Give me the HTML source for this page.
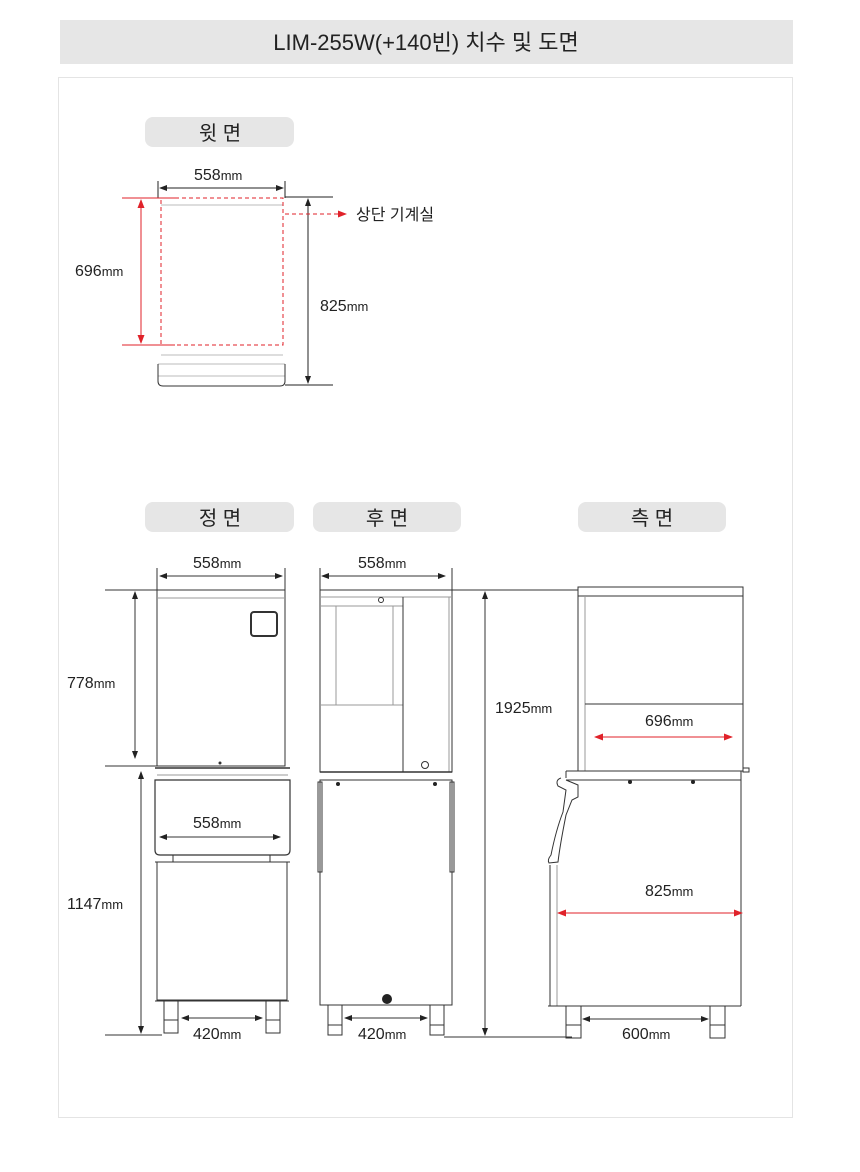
<!DOCTYPE html>
<html><head><meta charset="utf-8"><style>
html,body{margin:0;padding:0;background:#fff;}
svg{display:block;}
text{font-family:"Liberation Sans","Noto Sans CJK KR",sans-serif;fill:#222;}
</style></head><body>
<svg width="860" height="1172" viewBox="0 0 860 1172" xmlns="http://www.w3.org/2000/svg">
<defs>
<marker id="ab" markerWidth="8" markerHeight="8" refX="7" refY="4" orient="auto-start-reverse" markerUnits="userSpaceOnUse"><path d="M0,1 L8,4 L0,7 Z" fill="#222"/></marker>
<marker id="ar" markerWidth="9" markerHeight="9" refX="8" refY="4.5" orient="auto-start-reverse" markerUnits="userSpaceOnUse"><path d="M0,1 L9,4.5 L0,8 Z" fill="#e0222a"/></marker>
</defs>
<rect x="60" y="20" width="733" height="44" fill="#e6e6e6"/>
<text x="426" y="50" font-size="22" text-anchor="middle" fill="#333">LIM-255W(+140빈) 치수 및 도면</text>
<rect x="58.5" y="77.5" width="734" height="1040" fill="none" stroke="#e4e4e4"/>

<!-- pills -->
<g fill="#e6e6e6"><rect x="145" y="117" width="149" height="30" rx="8"/><rect x="145" y="502" width="149" height="30" rx="8"/><rect x="313" y="502" width="148" height="30" rx="8"/><rect x="578" y="502" width="148" height="30" rx="8"/></g>
<g font-size="20" text-anchor="middle" fill="#333"><text x="220" y="140">윗 면</text><text x="220" y="525">정 면</text><text x="387" y="525">후 면</text><text x="652" y="525">측 면</text></g>

<g font-size="16"><text x="194" y="180">558<tspan font-size="13">mm</tspan></text>
<text x="75" y="276">696<tspan font-size="13">mm</tspan></text>
<text x="320" y="311">825<tspan font-size="13">mm</tspan></text>
<text x="356" y="220">상단 기계실</text></g>

<!-- top view -->
<g stroke="#222" stroke-width="1" fill="none">
<line x1="158" y1="181" x2="158" y2="198"/><line x1="285" y1="181" x2="285" y2="198"/>
<line x1="160" y1="188" x2="283" y2="188" marker-start="url(#ab)" marker-end="url(#ab)"/>
<line x1="285" y1="197" x2="333" y2="197"/><line x1="285" y1="385" x2="333" y2="385"/>
<line x1="308" y1="199" x2="308" y2="383" marker-start="url(#ab)" marker-end="url(#ab)"/>
</g>
<g stroke="#bbb" fill="none">
<line x1="161" y1="205" x2="283" y2="205"/><line x1="161" y1="355" x2="283" y2="355"/><line x1="158" y1="364" x2="285" y2="364"/><line x1="158" y1="376" x2="285" y2="376"/>
<path d="M158,364 V381 Q158,386 163,386 H280 Q285,386 285,381 V364" stroke="#333"/>
</g>
<g stroke="#e0222a" fill="none">
<rect x="161" y="198" width="122" height="147" stroke-dasharray="4,3"/>
<line x1="122" y1="198" x2="175" y2="198"/><line x1="122" y1="345" x2="175" y2="345"/>
<line x1="141" y1="200" x2="141" y2="343" marker-start="url(#ar)" marker-end="url(#ar)"/>
<line x1="285" y1="214" x2="346" y2="214" stroke-dasharray="4,3" marker-end="url(#ar)"/>
</g>

<!-- front view -->
<g font-size="16"><text x="193" y="568">558<tspan font-size="13">mm</tspan></text>
<text x="67" y="688">778<tspan font-size="13">mm</tspan></text>
<text x="67" y="909">1147<tspan font-size="13">mm</tspan></text>
<text x="193" y="828">558<tspan font-size="13">mm</tspan></text>
<text x="193" y="1039">420<tspan font-size="13">mm</tspan></text>
<text x="358" y="568">558<tspan font-size="13">mm</tspan></text>
<text x="358" y="1039">420<tspan font-size="13">mm</tspan></text>
<text x="495" y="713">1925<tspan font-size="13">mm</tspan></text>
<text x="645" y="726">696<tspan font-size="13">mm</tspan></text>
<text x="645" y="896">825<tspan font-size="13">mm</tspan></text>
<text x="622" y="1039">600<tspan font-size="13">mm</tspan></text></g>

<g stroke="#333" stroke-width="1" fill="none">
<line x1="157" y1="568" x2="157" y2="590"/><line x1="285" y1="568" x2="285" y2="590"/>
<line x1="160" y1="576" x2="282" y2="576" marker-start="url(#ab)" marker-end="url(#ab)"/>
<line x1="105" y1="590" x2="157" y2="590"/><line x1="105" y1="766" x2="157" y2="766"/><line x1="105" y1="1035" x2="162" y2="1035"/>
<line x1="135" y1="592" x2="135" y2="758" marker-start="url(#ab)" marker-end="url(#ab)"/>
<line x1="141" y1="772" x2="141" y2="1033" marker-start="url(#ab)" marker-end="url(#ab)"/>
<rect x="157" y="590" width="128" height="176"/>
<line x1="157" y1="598" x2="285" y2="598" stroke="#999"/>
<rect x="251" y="612" width="26" height="24" rx="3" stroke-width="2"/>
<line x1="155" y1="768" x2="290" y2="768" stroke-width="1.5"/>
<line x1="157" y1="775" x2="288" y2="775" stroke="#999"/>
<path d="M155,780 H290 V850 Q290,855 285,855 H160 Q155,855 155,850 Z" stroke-width="1.2"/>
<path d="M173,855 V862 H270 V855"/>
<line x1="155" y1="862" x2="290" y2="862"/>
<rect x="157" y="862" width="130" height="138"/>
<line x1="155" y1="1001" x2="289" y2="1001"/>
<rect x="164" y="1001" width="14" height="32"/><rect x="266" y="1001" width="14" height="32"/>
<line x1="164" y1="1020" x2="178" y2="1020"/><line x1="266" y1="1020" x2="280" y2="1020"/>
<line x1="182" y1="1018" x2="262" y2="1018" marker-start="url(#ab)" marker-end="url(#ab)"/>
<line x1="160" y1="837" x2="280" y2="837" marker-start="url(#ab)" marker-end="url(#ab)"/>
</g>
<circle cx="220" cy="763" r="1.5" fill="#333"/>

<!-- back view -->
<g stroke="#333" stroke-width="1" fill="none">
<line x1="320" y1="568" x2="320" y2="590"/><line x1="452" y1="568" x2="452" y2="590"/>
<line x1="322" y1="576" x2="445" y2="576" marker-start="url(#ab)" marker-end="url(#ab)"/>
<rect x="320" y="590" width="132" height="182"/>
<line x1="320" y1="597" x2="452" y2="597" stroke="#999"/>
<line x1="320" y1="606" x2="403" y2="606" stroke="#999"/>
<line x1="320" y1="705" x2="403" y2="705" stroke="#999"/>
<rect x="336" y="606" width="57" height="99" stroke="#999"/>
<line x1="403" y1="597" x2="403" y2="772"/>
<line x1="449" y1="597" x2="449" y2="772" stroke="#999"/>
<circle cx="381" cy="600" r="2.5"/><circle cx="425" cy="765" r="3.5"/>
<line x1="320" y1="772" x2="452" y2="772" stroke-width="1.5"/>
<rect x="320" y="780" width="132" height="225"/>
<rect x="318" y="782" width="4" height="90"/><rect x="450" y="782" width="4" height="90"/>
<rect x="328" y="1005" width="14" height="30"/><rect x="430" y="1005" width="14" height="30"/>
<line x1="328" y1="1025" x2="342" y2="1025"/><line x1="430" y1="1025" x2="444" y2="1025"/>
<line x1="345" y1="1018" x2="427" y2="1018" marker-start="url(#ab)" marker-end="url(#ab)"/>
<line x1="452" y1="590" x2="578" y2="590"/>
<line x1="444" y1="1037" x2="572" y2="1037"/>
<line x1="485" y1="592" x2="485" y2="1035" marker-start="url(#ab)" marker-end="url(#ab)"/>
</g>
<circle cx="338" cy="784" r="2" fill="#222"/><circle cx="435" cy="784" r="2" fill="#222"/>
<circle cx="387" cy="999" r="5" fill="#222"/>

<!-- side view -->
<g stroke="#333" stroke-width="1" fill="none">
<rect x="578" y="587" width="165" height="9"/>
<rect x="578" y="596" width="165" height="175"/>
<line x1="585" y1="596" x2="585" y2="771" stroke="#999"/>
<line x1="585" y1="704" x2="743" y2="704"/>
<line x1="566" y1="771" x2="743" y2="771"/>
<rect x="743" y="768" width="6" height="4"/>
<line x1="566" y1="780" x2="741" y2="780"/>
<line x1="741" y1="771" x2="741" y2="1006"/>
<path d="M566,771 V778"/>
<path d="M561,778 Q555,780 558,786 L566,790 L563,812 Q556,830 551,855 Q547,860 549,863 L558,862 Q560,845 566,815 L572,800 L578,797 L578,785 L566,780"/>
<line x1="550" y1="865" x2="550" y2="1006"/>
<line x1="557" y1="865" x2="557" y2="1006" stroke="#999"/>
<line x1="548" y1="1006" x2="741" y2="1006"/>
<rect x="566" y="1006" width="15" height="32"/><rect x="710" y="1006" width="15" height="32"/>
<line x1="566" y1="1025" x2="581" y2="1025"/><line x1="710" y1="1025" x2="725" y2="1025"/>
<line x1="583" y1="1019" x2="708" y2="1019" marker-start="url(#ab)" marker-end="url(#ab)"/>
</g>
<circle cx="630" cy="782" r="2" fill="#222"/><circle cx="693" cy="782" r="2" fill="#222"/>
<g stroke="#e0222a" fill="none">
<line x1="595" y1="737" x2="732" y2="737" marker-start="url(#ar)" marker-end="url(#ar)"/>
<line x1="558" y1="913" x2="742" y2="913" marker-start="url(#ar)" marker-end="url(#ar)"/>
</g>
</svg>
</body></html>
